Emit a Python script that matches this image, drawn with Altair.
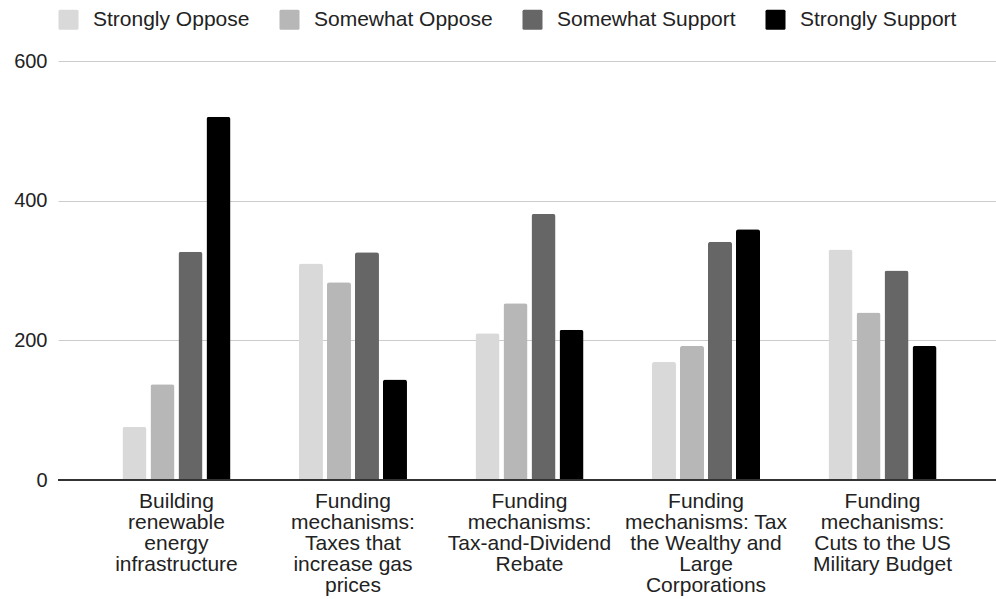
import altair as alt
import pandas as pd

categories = [
    "Building\nrenewable\nenergy\ninfrastructure",
    "Funding\nmechanisms:\nTaxes that\nincrease gas\nprices",
    "Funding\nmechanisms:\nTax-and-Dividend\nRebate",
    "Funding\nmechanisms: Tax\nthe Wealthy and\nLarge\nCorporations",
    "Funding\nmechanisms:\nCuts to the US\nMilitary Budget",
]
series = ["Strongly Oppose", "Somewhat Oppose", "Somewhat Support", "Strongly Support"]
colors = ["#d9d9d9", "#b7b7b7", "#666666", "#000000"]

strongly_oppose = [76, 310, 210, 169, 330]
somewhat_oppose = [137, 283, 253, 192, 240]
somewhat_support = [327, 326, 381, 341, 300]
strongly_support = [520, 144, 215, 359, 192]

values = [strongly_oppose, somewhat_oppose, somewhat_support, strongly_support]
rows = []
for s, vals in zip(series, values):
    for c, v in zip(categories, vals):
        rows.append({"category": c, "series": s, "value": v})
df = pd.DataFrame(rows)

FONT = "Liberation Sans"
rounded_square = ("M-0.85,-1 L0.85,-1 Q1,-1 1,-0.85 L1,0.85 Q1,1 0.85,1 "
                  "L-0.85,1 Q-1,1 -1,0.85 L-1,-0.85 Q-1,-1 -0.85,-1 Z")

bars = alt.Chart(df).mark_bar(
    cornerRadiusTopLeft=2.5, cornerRadiusTopRight=2.5
).encode(
    x=alt.X(
        "category:N",
        sort=categories,
        title=None,
        scale=alt.Scale(paddingInner=0.388, paddingOuter=0.351, align=0.52),
        axis=alt.Axis(
            labelAngle=0,
            labelExpr="split(datum.label, '\\n')",
            labelFont=FONT,
            labelFontSize=21,
            labelLineHeight=21,
            labelColor="#222222",
            labelPadding=10,
            labelBaseline="top",
            labelLimit=0,
            ticks=False,
            grid=False,
        ),
    ),
    xOffset=alt.XOffset(
        "series:N", sort=series,
        scale=alt.Scale(paddingInner=1 / 7, paddingOuter=0),
    ),
    y=alt.Y(
        "value:Q",
        title=None,
        scale=alt.Scale(domain=[0, 600], nice=False),
        axis=alt.Axis(
            values=[0, 200, 400, 600],
            labelFont=FONT,
            labelFontSize=20,
            labelColor="#222222",
            labelPadding=11,
            ticks=False,
            gridColor="#cccccc",
            gridWidth=1,
        ),
    ),
    color=alt.Color(
        "series:N",
        sort=series,
        scale=alt.Scale(domain=series, range=colors),
        legend=alt.Legend(
            title=None,
            orient="none",
            direction="horizontal",
            legendX=0,
            legendY=-52,
            padding=0,
            symbolType=rounded_square,
            symbolSize=400,
            symbolStrokeWidth=0,
            symbolOpacity=1,
            labelFont=FONT,
            labelFontSize=21,
            labelColor="#222222",
            labelOffset=14,
            labelLimit=0,
            columnPadding=29,
        ),
    ),
)

baseline = alt.Chart(df).mark_rule(color="#333333", strokeWidth=1.2).encode(
    y=alt.datum(0),
)

chart = alt.layer(bars, baseline).properties(
    width=938,
    height=419,
    autosize=alt.AutoSizeParams(type="none"),
    padding={"left": 58, "top": 61, "right": 0, "bottom": 119},
).configure(
    background="white",
    view=alt.ViewConfig(stroke="transparent", strokeWidth=0, strokeOpacity=0),
    axis=alt.AxisConfig(domain=False, domainOpacity=0),
    axisY=alt.AxisConfig(domain=False, domainOpacity=0),
    axisLeft=alt.AxisConfig(domain=False, domainOpacity=0),
    axisQuantitative=alt.AxisConfig(domain=False, domainOpacity=0),
)

chart.save("out.html", embed_options={"renderer": "svg", "actions": False})
